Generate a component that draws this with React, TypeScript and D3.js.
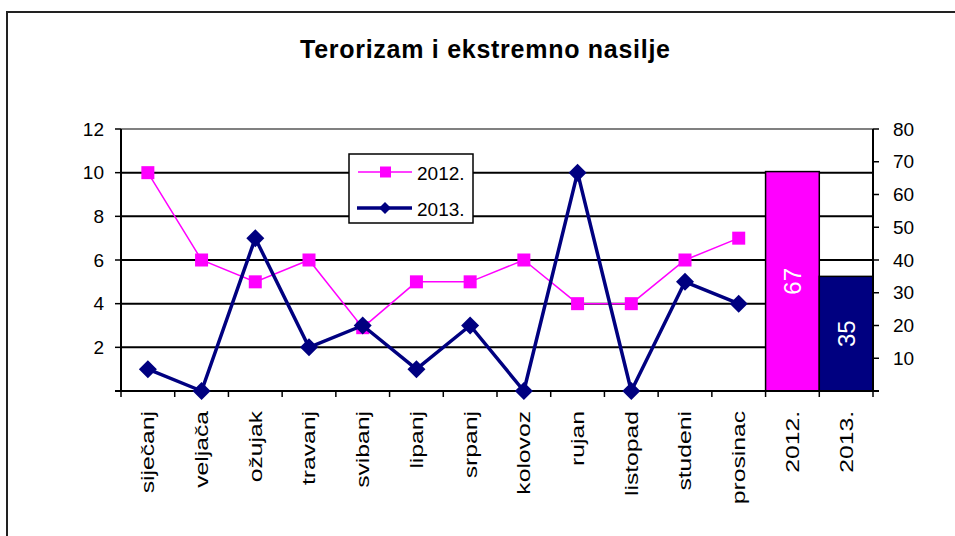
import React from 'react';
import * as d3 from 'd3';

// monthly counts
const months = ['siječanj', 'veljača', 'ožujak', 'travanj', 'svibanj', 'lipanj', 'srpanj', 'kolovoz', 'rujan', 'listopad', 'studeni', 'prosinac'];
const values2012 = [10, 6, 5, 6, 2.9, 5, 5, 6, 4, 4, 6, 7];
const values2013 = [1, 0, 7, 2, 3, 1, 3, 0, 10, 0, 5, 4];

// yearly totals (right axis)
const years = ['2012.', '2013.'];
const totals = [67, 35];

const leftTicks = [2, 4, 6, 8, 10, 12];
const rightTicks = [10, 20, 30, 40, 50, 60, 70, 80];

const PINK = '#ff00ff';
const NAVY = '#000080';
const FONT = '"Liberation Sans", Arial, sans-serif';

const App: React.FC = () => {
  const width = 955;
  const height = 536;
  const margin = { top: 129, right: 82, bottom: 145, left: 121 };
  const plotBottom = height - margin.bottom;
  const plotRight = width - margin.right;

  const x = d3.scaleBand<string>()
    .domain([...months, ...years])
    .range([margin.left, plotRight])
    .padding(0);

  const yLeft = d3.scaleLinear().domain([0, 12]).range([plotBottom, margin.top]);
  const yRight = d3.scaleLinear().domain([0, 80]).range([plotBottom, margin.top]);

  const cx = (m: string) => (x(m) ?? 0) + x.bandwidth() / 2;

  const line = d3.line<number>()
    .x((_, i) => cx(months[i]))
    .y(d => yLeft(d));

  const boundaries = [...months, ...years].map(c => x(c) ?? 0).concat([plotRight]);

  return (
    <div style={{ position: 'absolute', left: 0, top: 0 }}>
      <svg width={width} height={height} style={{ display: 'block', fontFamily: FONT }}>
        <rect x={0} y={0} width={width} height={height} fill="#fff" />
        {/* outer frame */}
        <rect x={7} y={12} width={width + 10} height={height + 10} fill="none" stroke="#222" strokeWidth={2} />

        <text x={485} y={58} textAnchor="middle" fontSize={25} fontWeight="bold" fill="#000"
          textLength={370} lengthAdjust="spacing">
          Terorizam i ekstremno nasilje
        </text>

        {/* top border of plot area */}
        <line x1={margin.left} x2={plotRight} y1={margin.top} y2={margin.top} stroke="#808080" strokeWidth={2} />

        {/* gridlines */}
        {leftTicks.filter(t => t < 12).map(t => (
          <line key={t} x1={margin.left} x2={plotRight} y1={yLeft(t)} y2={yLeft(t)} stroke="#000" strokeWidth={2} />
        ))}

        {/* bars */}
        {years.map((yr, i) => (
          <g key={yr}>
            <rect
              x={x(yr)}
              y={yRight(totals[i])}
              width={x.bandwidth()}
              height={plotBottom - yRight(totals[i])}
              fill={i === 0 ? PINK : NAVY}
              stroke="#000"
              strokeWidth={1.5}
            />
            <text
              transform={`translate(${cx(yr)},${(yRight(totals[i]) + plotBottom) / 2}) rotate(-90)`}
              textAnchor="middle"
              dominantBaseline="central"
              fontSize={24}
              fill="#fff"
            >
              {totals[i]}
            </text>
          </g>
        ))}

        {/* left axis */}
        <line x1={margin.left} x2={margin.left} y1={margin.top} y2={plotBottom} stroke="#000" strokeWidth={2} />
        {[0, ...leftTicks].map(t => (
          <line key={t} x1={margin.left - 6} x2={margin.left} y1={yLeft(t)} y2={yLeft(t)} stroke="#000" strokeWidth={1.5} />
        ))}
        {leftTicks.map(t => (
          <text key={t} x={104} y={yLeft(t)} textAnchor="end" dominantBaseline="central" fontSize={19} fill="#000">
            {t}
          </text>
        ))}

        {/* right axis */}
        <line x1={plotRight} x2={plotRight} y1={margin.top} y2={plotBottom} stroke="#000" strokeWidth={2} />
        {[0, ...rightTicks].map(t => (
          <line key={t} x1={plotRight} x2={plotRight + 6} y1={yRight(t)} y2={yRight(t)} stroke="#000" strokeWidth={1.5} />
        ))}
        {rightTicks.map(t => (
          <text key={t} x={893} y={yRight(t)} textAnchor="start" dominantBaseline="central" fontSize={19} fill="#000">
            {t}
          </text>
        ))}

        {/* bottom axis */}
        <line x1={margin.left - 6} x2={plotRight + 6} y1={plotBottom} y2={plotBottom} stroke="#000" strokeWidth={2} />
        {boundaries.map((b, i) => (
          <line key={i} x1={b} x2={b} y1={plotBottom} y2={plotBottom + 6} stroke="#000" strokeWidth={1.5} />
        ))}
        {[...months, ...years].map(c => (
          <text
            key={c}
            transform={`translate(${cx(c)},${plotBottom + 20}) rotate(-90) scale(1.3,1)`}
            textAnchor="end"
            dominantBaseline="central"
            fontSize={19}
            fill="#000"
          >
            {c}
          </text>
        ))}

        {/* 2012 line */}
        <path d={line(values2012) ?? ''} fill="none" stroke={PINK} strokeWidth={1.5} />
        {values2012.map((v, i) => (
          <rect key={i} x={cx(months[i]) - 6.5} y={yLeft(v) - 6.5} width={13} height={13} fill={PINK} />
        ))}

        {/* 2013 line */}
        <path d={line(values2013) ?? ''} fill="none" stroke={NAVY} strokeWidth={3.5} strokeLinejoin="round" />
        {values2013.map((v, i) => {
          const px = cx(months[i]);
          const py = yLeft(v);
          return <path key={i} d={`M${px},${py - 9}L${px + 9},${py}L${px},${py + 9}L${px - 9},${py}Z`} fill={NAVY} />;
        })}

        {/* legend */}
        <rect x={349} y={154} width={124} height={69} fill="#fff" stroke="#000" strokeWidth={1.5} />
        <line x1={358} x2={412} y1={172} y2={172} stroke={PINK} strokeWidth={1.5} />
        <rect x={380} y={166.5} width={11} height={11} fill={PINK} />
        <text x={417} y={173} dominantBaseline="central" fontSize={19} fill="#000">{years[0]}</text>
        <line x1={357} x2={412} y1={208} y2={208} stroke={NAVY} strokeWidth={3.5} />
        <path d="M385,202L391,208L385,214L379,208Z" fill={NAVY} />
        <text x={417} y={209} dominantBaseline="central" fontSize={19} fill="#000">{years[1]}</text>
      </svg>
    </div>
  );
};

export default App;
